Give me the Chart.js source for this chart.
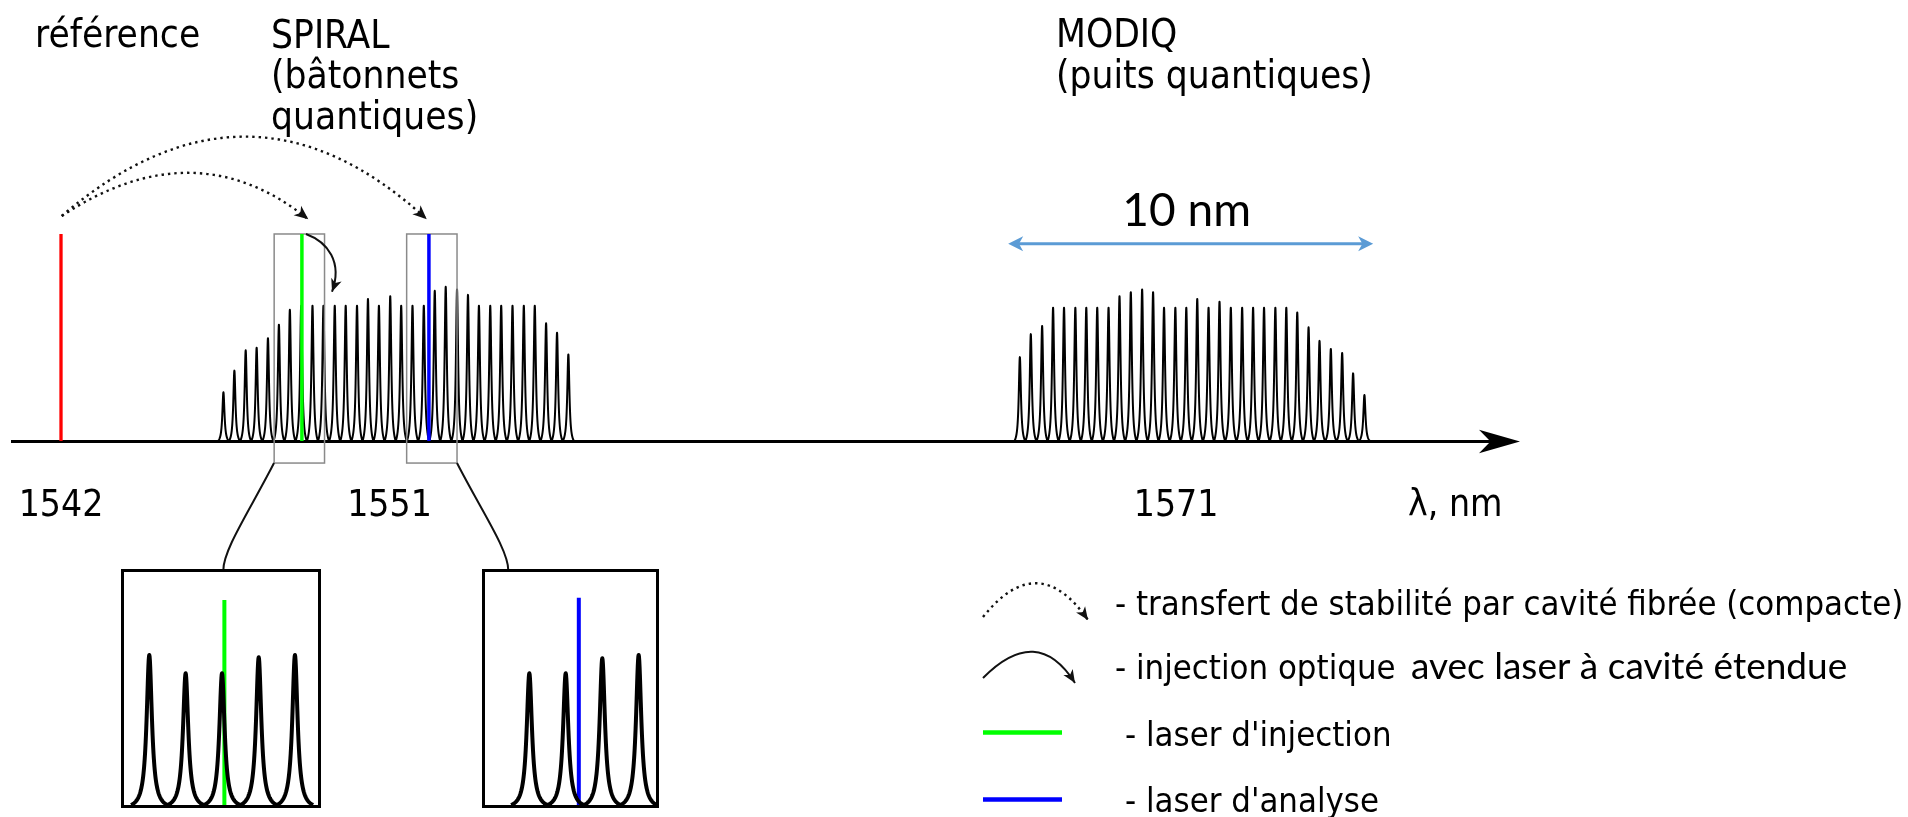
<!DOCTYPE html>
<html><head><meta charset="utf-8">
<script src="https://cdn.jsdelivr.net/npm/chart.js@4/dist/chart.umd.min.js"></script>
<style>
html,body{margin:0;padding:0;background:#fff;overflow:hidden}
#wrap{position:relative;width:1908px;height:817px;background:#fff}
canvas{position:absolute;display:block}
#main{left:0;top:0}
#inset1{left:119px;top:567px}
#inset2{left:480px;top:567px}
</style></head><body>
<div id="wrap">
<canvas id="main" width="1908" height="817"></canvas>
<canvas id="inset1" width="204" height="243"></canvas>
<canvas id="inset2" width="181" height="243"></canvas>
</div>
<script>
// ---------------- data (wavelength in nm, relative level: 1 = typical mode) ----------------
const spiralModesNm = [1546.45, 1546.75, 1547.06, 1547.36, 1547.67, 1547.97, 1548.27, 1548.58, 1548.89, 1549.19, 1549.50, 1549.80, 1550.11, 1550.41, 1550.71, 1551.02, 1551.32, 1551.63, 1551.94, 1552.24, 1552.54, 1552.85, 1553.15, 1553.45, 1553.76, 1554.06, 1554.37, 1554.68, 1554.98, 1555.29, 1555.59, 1555.90];
const spiralLevels = [0.36, 0.52, 0.67, 0.69, 0.76, 0.86, 0.97, 1.00, 1.00, 1.00, 1.00, 1.00, 1.00, 1.05, 1.00, 1.07, 1.00, 1.00, 1.00, 1.11, 1.14, 1.12, 1.08, 1.00, 1.00, 1.00, 1.00, 1.00, 1.00, 0.87, 0.80, 0.64];
const modiqModesNm = [1568.27, 1568.57, 1568.88, 1569.18, 1569.48, 1569.79, 1570.09, 1570.39, 1570.70, 1571.00, 1571.31, 1571.62, 1571.92, 1572.22, 1572.53, 1572.83, 1573.13, 1573.44, 1573.74, 1574.05, 1574.36, 1574.66, 1574.96, 1575.27, 1575.57, 1575.87, 1576.18, 1576.48, 1576.79, 1577.10, 1577.40, 1577.71];
const modiqLevels = [0.62, 0.79, 0.85, 0.985, 0.985, 0.985, 0.985, 0.985, 0.985, 1.07, 1.10, 1.12, 1.10, 0.985, 0.985, 0.985, 1.05, 0.985, 1.03, 0.985, 0.985, 0.985, 0.985, 0.985, 0.985, 0.95, 0.84, 0.74, 0.68, 0.65, 0.50, 0.34];
const referenceLaserNm = 1542.00;
const injectionLaserNm = 1548.60;
const analysisLaserNm = 1552.08;
const laserLevel = 1.53;
const tickPositionsNm = [1542, 1551, 1572.55, 1580.2];
const tickLabels = ['1542', '1551', '1571', 'λ, nm'];
const spanNm = [1567.95, 1577.95];
const spanLabel = '10 nm';
// zoomed insets
const insetInjectionModesNm = [1547.97, 1548.275, 1548.58, 1548.888, 1549.192];
const insetInjectionLevels = [1.00, 0.878, 0.878, 0.985, 1.00];
const insetInjectionLaserLevel = 1.367;
const insetAnalysisModesNm = [1551.635, 1551.94, 1552.247, 1552.552];
const insetAnalysisLevels = [0.878, 0.878, 0.978, 1.00];
const insetAnalysisLaserNm = 1552.05;
const insetAnalysisLaserLevel = 1.382;

// ---------------- styles ----------------
const FONT_MAIN = "'DejaVu Sans Condensed', 'DejaVu Sans', sans-serif";
const FONT_ALT = "Lato, 'Open Sans', sans-serif";
const RED = '#ff0000', GREEN = '#00ff00', BLUE = '#0000ff', SPAN_BLUE = '#5b9bd5';
Chart.defaults.color = '#000';

// ---------------- helpers ----------------
function combDataset(label, xs, ys) {
  return {type: 'scatter', label, data: xs.map((x, i) => ({x, y: ys[i]})),
    pointRadius: 0, pointHoverRadius: 0, showLine: false, comb: true};
}
function laserDataset(label, x, level, color, width) {
  return {type: 'line', label, data: [{x, y: 0}, {x, y: level}], borderColor: color,
    borderWidth: width, pointRadius: 0, fill: false, tension: 0, borderCapStyle: 'butt'};
}
function arrowHead(ctx, tx, ty, ang, len, half, color) {
  ctx.save(); ctx.translate(tx, ty); ctx.rotate(ang);
  ctx.beginPath(); ctx.moveTo(0, 0); ctx.lineTo(-len, -half); ctx.lineTo(-len * 0.72, 0);
  ctx.lineTo(-len, half); ctx.closePath(); ctx.fillStyle = color; ctx.fill(); ctx.restore();
}

const combPlugin = {
  id: 'combPeaks',
  draw(chart, opts) {
    const ctx = chart.ctx, xS = chart.scales.x, yS = chart.scales.y;
    const base = yS.getPixelForValue(0);
    chart.data.datasets.forEach(ds => {
      if (!ds.comb) return;
      const pts = ds.data.map(d => ({x: xS.getPixelForValue(d.x), top: yS.getPixelForValue(d.y)}));
      const g = opts.gamma, N = 60;
      ctx.save(); ctx.beginPath();
      pts.forEach((p, i) => {
        const left = i > 0 ? (p.x - pts[i - 1].x) / 2 : (pts[1].x - pts[0].x) / 2;
        const right = i < pts.length - 1 ? (pts[i + 1].x - p.x) / 2 : (p.x - pts[i - 1].x) / 2;
        const h = base - p.top;
        for (let k = -N; k <= N; k++) {
          const W = k < 0 ? left : right;
          const t = k / N * W;
          const L = 1 / (1 + (t / g) ** 2), Lw = 1 / (1 + (W / g) ** 2);
          const y = base - h * Math.max(0, (L - Lw) / (1 - Lw));
          if (i === 0 && k === -N) ctx.moveTo(p.x + t, y); else ctx.lineTo(p.x + t, y);
        }
      });
      ctx.lineWidth = opts.lineWidth; ctx.strokeStyle = '#000'; ctx.lineJoin = 'round';
      ctx.stroke(); ctx.restore();
    });
  },
  beforeDatasetsDraw(chart, args, opts) { if (!opts.onTop) this.draw(chart, opts); },
  afterDatasetsDraw(chart, args, opts) { if (opts.onTop) this.draw(chart, opts); }
};

// annotation geometry in chart units (nm, level)
const zoomWindows = [[1547.84, 1549.22], [1551.47, 1552.85]];
const zoomWindowLevels = [-0.163, 1.53];
const transferArcs = [
  [[1542.02, 1.663], [1545.67, 2.313], [1548.775, 1.639]],
  [[1542.02, 1.663], [1547.15, 2.848], [1552.02, 1.639]]
];
const injectionArrow = [[1548.712, 1.53], [1549.31, 1.47], [1549.72, 1.323], [1549.425, 1.103]];
const connectors = [
  [[1547.836, -0.163], [1547.178, -0.51], [1546.438, -0.806], [1546.447, -0.957]],
  [[1552.849, -0.163], [1553.507, -0.51], [1554.26, -0.806], [1554.255, -0.957]]
];

const zoomBoxPlugin = {
  id: 'zoomBoxes',
  beforeDatasetsDraw(chart) {
    const ctx = chart.ctx, xS = chart.scales.x, yS = chart.scales.y;
    ctx.save(); ctx.strokeStyle = '#8a8a8a'; ctx.lineWidth = 1.5;
    zoomWindows.forEach(w => {
      const x1 = xS.getPixelForValue(w[0]), x2 = xS.getPixelForValue(w[1]);
      const y1 = yS.getPixelForValue(zoomWindowLevels[1]), y2 = yS.getPixelForValue(zoomWindowLevels[0]);
      ctx.strokeRect(x1, y1, x2 - x1, y2 - y1);
    });
    ctx.restore();
  }
};

const annotationPlugin = {
  id: 'annotations',
  afterDraw(chart) {
    const ctx = chart.ctx, xS = chart.scales.x, yS = chart.scales.y, area = chart.chartArea;
    const P = p => [xS.getPixelForValue(p[0]), yS.getPixelForValue(p[1])];
    ctx.save();
    // axis arrow head
    const base = yS.getPixelForValue(0);
    arrowHead(ctx, area.right + 20, base + 0.5, 0, 41, 11.7, '#000');
    // dotted transfer arcs
    transferArcs.forEach(a => {
      const [p0, c, p2] = a.map(P);
      ctx.beginPath(); ctx.moveTo(...p0); ctx.quadraticCurveTo(...c, ...p2);
      ctx.setLineDash([2.4, 4]); ctx.lineWidth = 2.4; ctx.strokeStyle = '#111'; ctx.stroke();
      ctx.setLineDash([]);
      arrowHead(ctx, p2[0], p2[1], Math.atan2(p2[1] - c[1], p2[0] - c[0]), 14, 6, '#111');
    });
    // solid injection arrow
    {
      const [p0, c1, c2, p3] = injectionArrow.map(P);
      ctx.beginPath(); ctx.moveTo(...p0); ctx.bezierCurveTo(...c1, ...c2, ...p3);
      ctx.lineWidth = 2; ctx.strokeStyle = '#111'; ctx.stroke();
      arrowHead(ctx, p3[0], p3[1], Math.atan2(p3[1] - c2[1], p3[0] - c2[0]), 13, 5.5, '#111');
    }
    // connectors to insets
    connectors.forEach(cn => {
      const [p0, c1, c2, p3] = cn.map(P);
      ctx.beginPath(); ctx.moveTo(...p0); ctx.bezierCurveTo(...c1, ...c2, ...p3);
      ctx.lineWidth = 2; ctx.strokeStyle = '#111'; ctx.stroke();
    });
    // 10 nm span
    {
      const sy = yS.getPixelForValue(1.458);
      const xa = xS.getPixelForValue(spanNm[0]), xb = xS.getPixelForValue(spanNm[1]);
      ctx.beginPath(); ctx.moveTo(xa + 8, sy); ctx.lineTo(xb - 8, sy);
      ctx.lineWidth = 3; ctx.strokeStyle = SPAN_BLUE; ctx.stroke();
      arrowHead(ctx, xb, sy, 0, 15, 7.5, SPAN_BLUE);
      arrowHead(ctx, xa, sy, Math.PI, 15, 7.5, SPAN_BLUE);
      ctx.fillStyle = '#000'; ctx.font = '46px ' + FONT_ALT; ctx.textAlign = 'center'; ctx.textBaseline = 'alphabetic';
      ctx.fillText(spanLabel, (xa + xb) / 2 - 4, yS.getPixelForValue(1.589));
    }
    // captions
    ctx.textAlign = 'left'; ctx.textBaseline = 'alphabetic'; ctx.fillStyle = '#000';
    ctx.font = '38.5px ' + FONT_MAIN;
    [['référence', 35, 47], ['SPIRAL', 271, 48], ['(bâtonnets', 271, 88], ['quantiques)', 271, 129],
     ['MODIQ', 1056, 47], ['(puits quantiques)', 1056, 88]].forEach(t => ctx.fillText(t[0], t[1], t[2]));
    // legend
    ctx.font = '34.4px ' + FONT_MAIN;
    ctx.fillText('- transfert de stabilité par cavité fibrée (compacte)', 1115, 615);
    ctx.fillText('- injection optique', 1115, 679);
    ctx.fillText("- laser d'injection", 1125, 746);
    ctx.fillText("- laser d'analyse", 1125, 812);
    ctx.font = '37px ' + FONT_ALT;
    ctx.fillText('avec laser à cavité étendue', 1411, 679);
    // legend symbols
    ctx.beginPath(); ctx.moveTo(983, 617); ctx.quadraticCurveTo(1038, 548, 1088, 620);
    ctx.setLineDash([2.4, 4]); ctx.lineWidth = 2.4; ctx.strokeStyle = '#111'; ctx.stroke(); ctx.setLineDash([]);
    arrowHead(ctx, 1088, 620, Math.atan2(620 - 548, 1088 - 1038), 13, 5.5, '#111');
    ctx.beginPath(); ctx.moveTo(983, 678); ctx.quadraticCurveTo(1037, 623, 1075, 683);
    ctx.lineWidth = 2; ctx.stroke();
    arrowHead(ctx, 1075, 683, Math.atan2(683 - 623, 1075 - 1037), 13, 5.5, '#111');
    ctx.lineWidth = 4.5;
    ctx.beginPath(); ctx.moveTo(983, 732.5); ctx.lineTo(1062, 732.5); ctx.strokeStyle = GREEN; ctx.stroke();
    ctx.beginPath(); ctx.moveTo(983, 799.5); ctx.lineTo(1062, 799.5); ctx.strokeStyle = BLUE; ctx.stroke();
    ctx.restore();
  }
};

// ---------------- main chart ----------------
new Chart(document.getElementById('main'), {
  type: 'scatter',
  data: {datasets: [
    combDataset('SPIRAL', spiralModesNm, spiralLevels),
    combDataset('MODIQ', modiqModesNm, modiqLevels),
    laserDataset('référence', referenceLaserNm, laserLevel, RED, 3.3),
    laserDataset("laser d'injection", injectionLaserNm, laserLevel, GREEN, 3.5),
    laserDataset("laser d'analyse", analysisLaserNm, laserLevel, BLUE, 3.5)
  ]},
  options: {
    responsive: false, animation: false, events: [],
    layout: {padding: {left: 12, right: 408, top: 0, bottom: 286}},
    plugins: {legend: {display: false}, tooltip: {enabled: false},
      combPeaks: {gamma: 1.3, lineWidth: 2, onTop: false}},
    scales: {
      x: {type: 'linear', min: 1540.6575, max: 1581.4247, position: 'bottom',
        grid: {display: false, drawTicks: false},
        border: {display: true, color: '#000', width: 3},
        afterBuildTicks: s => { s.ticks = tickPositionsNm.map(v => ({value: v})); },
        afterFit: s => { s.height = 90; s.paddingLeft = 0; s.paddingRight = 0; },
        ticks: {autoSkip: false, maxRotation: 0, minRotation: 0, padding: 43, color: '#000',
          font: {family: FONT_MAIN, size: 37}, callback: (v, i) => tickLabels[i]}},
      y: {type: 'linear', display: false, min: 0, max: 3.2594}
    }
  },
  plugins: [combPlugin, zoomBoxPlugin, annotationPlugin]
});

// ---------------- insets ----------------
const framePlugin = {
  id: 'frame',
  afterDraw(chart) {
    const a = chart.chartArea, ctx = chart.ctx;
    ctx.save(); ctx.lineWidth = 3; ctx.strokeStyle = '#000';
    ctx.strokeRect(a.left, a.top, a.right - a.left, a.bottom - a.top); ctx.restore();
  }
};
function inset(id, modes, levels, laserNm, laserLvl, color, xmin, xmax) {
  return new Chart(document.getElementById(id), {
    type: 'scatter',
    data: {datasets: [combDataset('modes', modes, levels), laserDataset('laser', laserNm, laserLvl, color, 4)]},
    options: {
      responsive: false, animation: false, events: [],
      layout: {padding: 3.5},
      plugins: {legend: {display: false}, tooltip: {enabled: false},
        combPeaks: {gamma: 3.2, lineWidth: 4, onTop: true}},
      scales: {x: {type: 'linear', display: false, min: xmin, max: xmax},
               y: {type: 'linear', display: false, min: -0.01, max: 1.5633}}
    },
    plugins: [combPlugin, framePlugin]
  });
}
inset('inset1', insetInjectionModesNm, insetInjectionLevels, injectionLaserNm, insetInjectionLaserLevel, GREEN, 1547.7453, 1549.398);
inset('inset2', insetAnalysisModesNm, insetAnalysisLevels, insetAnalysisLaserNm, insetAnalysisLaserLevel, BLUE, 1551.2504, 1552.7101);
</script>
</body></html>
